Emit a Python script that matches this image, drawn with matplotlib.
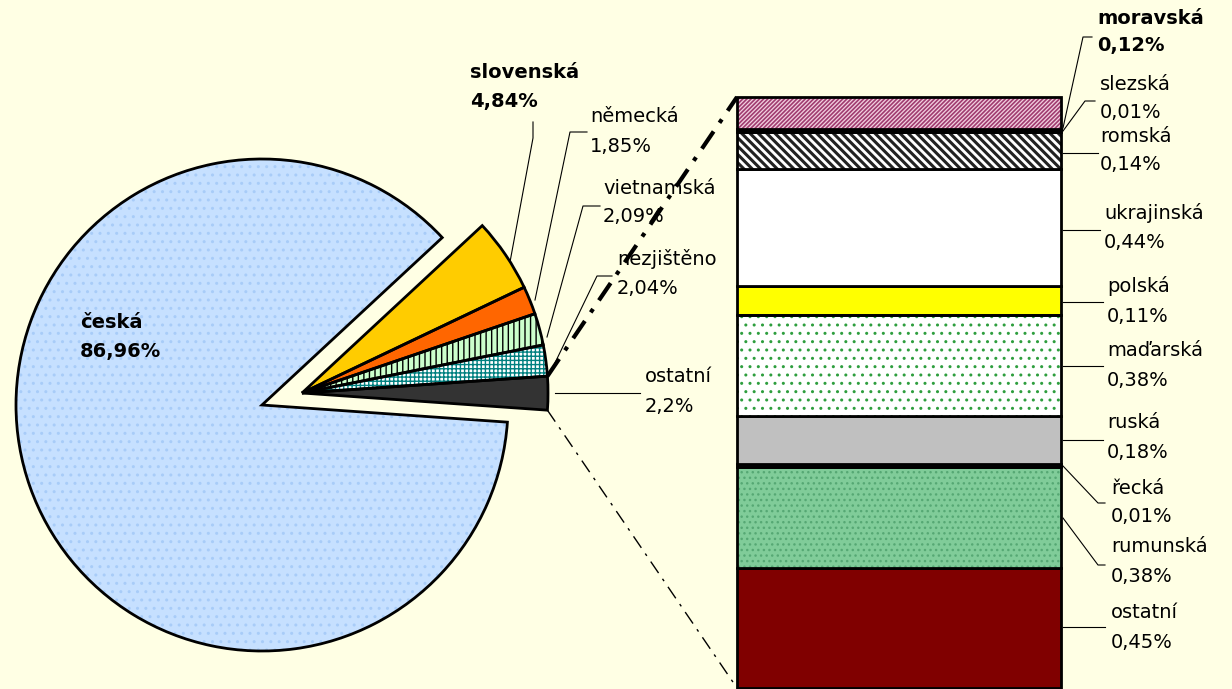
import matplotlib.pyplot as plt
import numpy as np

W, H = 1232, 689

# pie data (counter-clockwise from the right)
pie_labels = ["ostatní", "nezjištěno", "vietnamská", "německá", "slovenská", "česká"]
pie_values = [2.2, 2.04, 2.09, 1.85, 4.84, 86.96]
pie_texts = ["2,2%", "2,04%", "2,09%", "1,85%", "4,84%", "86,96%"]

# bar data (bottom to top)
bar_labels = ["ostatní", "rumunská", "řecká", "ruská", "maďarská",
              "polská", "ukrajinská", "romská", "slezská", "moravská"]
bar_values = [0.45, 0.38, 0.01, 0.18, 0.38, 0.11, 0.44, 0.14, 0.01, 0.12]
bar_texts = ["0,45%", "0,38%", "0,01%", "0,18%", "0,38%",
             "0,11%", "0,44%", "0,14%", "0,01%", "0,12%"]

# styles
pie_faces = ["#333333", "white", "#CCFFCC", "#FF6600", "#FFCC00", "#C6E0FF"]
pie_hatches = [None, "++++", "|||", None, None, ".."]
pie_hcolors = ["#333333", "#008080", "black", "#FF6600", "#FFCC00", "#A8CCF8"]

bar_faces = ["#800000", "#80CC99", "#00CCFF", "#C0C0C0", "white",
             "#FFFF00", "white", "white", "#111111", "#F2D0E0"]
bar_hatches = [None, "...", None, None, "..", None, None, "\\\\\\\\", None, "////////"]
bar_hcolors = ["#800000", "#56A874", "#00CCFF", "#C0C0C0", "#2E9E3E",
               "#FFFF00", "white", "#222222", "#111111", "#A03C70"]
bar_hwidths = [1, 1, 1, 1, 1, 1, 1, 2.2, 1, 1.2]

plt.rcParams['font.family'] = ['DejaVu Sans']
FS = 14

fig = plt.figure(figsize=(W / 100, H / 100), dpi=100, facecolor="#FFFFE4")

# ---- pie ----
R = 246
ax_pie = fig.add_axes([(262 - R) / W, (H - 405 - R) / H, 2 * R / W, 2 * R / H])
fills, _ = ax_pie.pie(pie_values, startangle=-4, colors=pie_faces,
                      wedgeprops=dict(linewidth=0, clip_on=False))
for w, hc, ht in zip(fills, pie_hcolors, pie_hatches):
    w.set_edgecolor(hc)
    if ht:
        w.set_hatch(ht)
outlines, _ = ax_pie.pie(pie_values, startangle=-4, colors=["none"] * 6,
                         wedgeprops=dict(edgecolor="black", linewidth=2, clip_on=False))
shift = (40 / R, 12 / R)
for w in list(fills[:5]) + list(outlines[:5]):
    w.set_center(shift)
ax_pie.set_xlim(-1, 1)
ax_pie.set_ylim(-1, 1)
ax_pie.set_aspect("auto")
ax_pie.axis("off")

# ---- bar ----
ax_bar = fig.add_axes([737 / W, (H - 688) / H, 324 / W, 591 / H])
bottoms = np.concatenate([[0], np.cumsum(bar_values)[:-1]])
bars = ax_bar.bar(0, bar_values, bottom=bottoms, width=1, color=bar_faces,
                  edgecolor="black", linewidth=2)
for b, hc, ht, hw in zip(bars, bar_hcolors, bar_hatches, bar_hwidths):
    if ht:
        b.set_hatch(ht)
        b.set_edgecolor(hc)
        b.set_linewidth(0)
        if hasattr(b, "set_hatch_linewidth"):
            b.set_hatch_linewidth(hw)
        ax_bar.bar(0, b.get_height(), bottom=b.get_y(), width=1, color="none",
                   edgecolor="black", linewidth=2)
ax_bar.set_xlim(-0.5, 0.5)
ax_bar.set_ylim(0, sum(bar_values))
ax_bar.axis("off")
for p in ax_bar.patches:
    p.set_clip_on(False)

# ---- overlay axes in pixel units for labels and connectors ----
ax0 = fig.add_axes([0, 0, 1, 1], zorder=5)
ax0.set_xlim(0, W)
ax0.set_ylim(H, 0)
ax0.axis("off")
ax0.patch.set_alpha(0)


def to_px(ax, xy):
    return ax0.transData.inverted().transform(ax.transData.transform(xy))


# connector lines from the "ostatní" slice to the bar
w0 = outlines[0]
cx, cy = w0.center
top = (cx + np.cos(np.radians(w0.theta2)), cy + np.sin(np.radians(w0.theta2)))
bot = (cx + np.cos(np.radians(w0.theta1)), cy + np.sin(np.radians(w0.theta1)))
p1, p2 = to_px(ax_pie, top), to_px(ax_bar, (-0.5, sum(bar_values)))
ax0.plot([p1[0], p2[0]], [p1[1], p2[1]], color="black", lw=3,
         linestyle=(0, (5, 2.5, 1, 2.5)))
p1, p2 = to_px(ax_pie, bot), to_px(ax_bar, (-0.5, 0))
ax0.plot([p1[0], p2[0]], [p1[1], p2[1]], color="black", lw=1,
         linestyle=(0, (10, 5, 2, 5)))

pie_pos = [(645, 377, 407), (617, 259, 289), (603, 188, 217),
           (590, 117, 146), (470, 72, 101), (80, 322, 351)]
pie_bold = [False, False, False, False, True, True]
pie_leaders = [[(555, 393), (640, 393)],
               [(553, 367), (597, 276), (612, 276)],
               [(547, 337), (583, 206), (600, 206)],
               [(535, 300), (570, 132), (587, 132)],
               [(510, 262), (533, 138), (533, 122)],
               None]
for lab, val, (x, y1, y2), bold, ld in zip(pie_labels, pie_texts, pie_pos,
                                           pie_bold, pie_leaders):
    fw = "bold" if bold else "normal"
    ax0.text(x, y1, lab, fontsize=FS, fontweight=fw, va="center", ha="left")
    ax0.text(x, y2, val, fontsize=FS, fontweight=fw, va="center", ha="left")
    if ld:
        ax0.plot(*zip(*ld), color="black", lw=0.8)

bar_pos = [(1111, 612, 642), (1111, 547, 576), (1111, 488, 517),
           (1107, 423, 453), (1107, 350, 380), (1107, 286, 316),
           (1104, 213, 243), (1100, 137, 165), (1100, 84, 112), (1097, 19, 46)]
bar_leaders = [[(1063, 627), (1105, 627)],
               [(1063, 518), (1098, 565), (1105, 565)],
               [(1063, 466), (1098, 503), (1105, 503)],
               [(1063, 440), (1103, 440)],
               [(1063, 366), (1103, 366)],
               [(1063, 302), (1103, 302)],
               [(1063, 230), (1100, 230)],
               [(1063, 153), (1098, 153)],
               [(1063, 131), (1085, 101), (1095, 101)],
               [(1063, 128), (1083, 37), (1092, 37)]]
for lab, val, (x, y1, y2), ld in zip(bar_labels, bar_texts, bar_pos, bar_leaders):
    fw = "bold" if lab == "moravská" else "normal"
    ax0.text(x, y1, lab, fontsize=FS, fontweight=fw, va="center", ha="left")
    ax0.text(x, y2, val, fontsize=FS, fontweight=fw, va="center", ha="left")
    ax0.plot(*zip(*ld), color="black", lw=0.8)

fig.savefig("out.png", dpi=100, facecolor=fig.get_facecolor())
